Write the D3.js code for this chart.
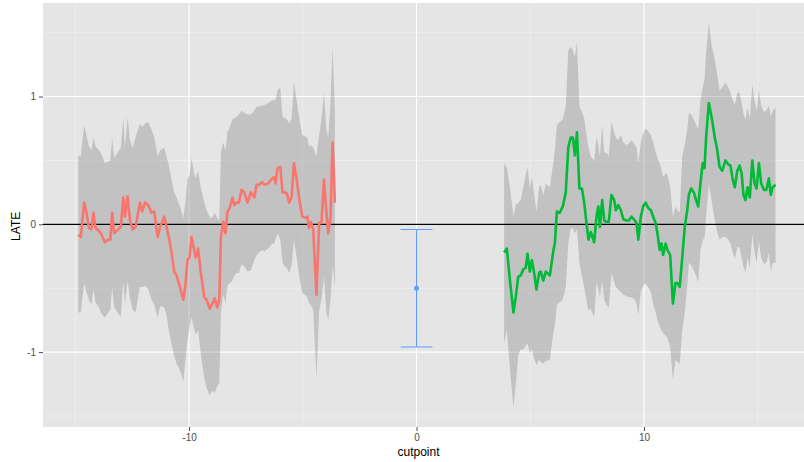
<!DOCTYPE html>
<html>
<head>
<meta charset="utf-8">
<script src="https://cdn.jsdelivr.net/npm/d3@7"></script>
<style>
  body { margin: 0; background: #fff; }
  text { font-family: "Liberation Sans", Arial, sans-serif; }
</style>
</head>
<body>
<div id="my_dataviz"></div>
<script>

// left window (red): cutpoint, estimate, upper and lower CI
var redCut = [-14.87,-14.76,-14.61,-14.51,-14.40,-14.29,-14.20,-14.11,-13.96,-13.85,-13.70,-13.55,-13.46,-13.38,-13.29,-13.11,-13.00,-12.89,-12.82,-12.70,-12.60,-12.48,-12.35,-12.16,-12.06,-11.94,-11.79,-11.65,-11.53,-11.38,-11.27,-11.09,-10.99,-10.89,-10.77,-10.65,-10.55,-10.40,-10.25,-10.15,-10.07,-9.98,-9.89,-9.79,-9.71,-9.60,-9.48,-9.33,-9.23,-9.09,-8.98,-8.87,-8.76,-8.67,-8.60,-8.50,-8.40,-8.31,-8.21,-8.09,-8.01,-7.91,-7.81,-7.69,-7.57,-7.43,-7.28,-7.13,-7.03,-6.93,-6.78,-6.69,-6.52,-6.34,-6.25,-6.20,-6.11,-5.99,-5.89,-5.79,-5.70,-5.60,-5.49,-5.39,-5.27,-5.13,-5.02,-4.91,-4.80,-4.73,-4.65,-4.54,-4.40,-4.28,-4.18,-4.07,-3.96,-3.88,-3.78,-3.69,-3.59];
var redLate = [-0.08,-0.10,0.17,0.09,-0.03,-0.04,0.09,-0.03,-0.05,-0.08,-0.14,-0.12,-0.12,0.09,-0.07,-0.04,-0.02,0.21,0.06,0.22,0.03,-0.04,-0.02,0.17,0.10,0.17,0.15,0.09,0.10,-0.10,-0.02,0.06,-0.02,-0.10,-0.22,-0.37,-0.40,-0.49,-0.59,-0.46,-0.28,-0.26,-0.10,-0.19,-0.26,-0.19,-0.38,-0.57,-0.59,-0.66,-0.62,-0.58,-0.65,-0.59,-0.10,0.02,-0.07,0.10,0.13,0.21,0.15,0.17,0.17,0.27,0.25,0.17,0.25,0.21,0.31,0.31,0.33,0.31,0.32,0.36,0.37,0.32,0.44,0.45,0.25,0.25,0.24,0.17,0.21,0.48,0.35,0.17,0.06,0.05,0.06,-0.03,0.02,-0.04,-0.55,0.01,0.01,0.35,0.09,-0.07,0.06,0.64,0.17];
var redHi = [0.54,0.53,0.78,0.70,0.61,0.58,0.68,0.61,0.58,0.55,0.48,0.49,0.50,0.68,0.52,0.57,0.60,0.83,0.60,0.84,0.66,0.60,0.68,0.79,0.76,0.79,0.80,0.74,0.68,0.53,0.58,0.60,0.53,0.46,0.35,0.25,0.21,0.14,0.05,0.19,0.35,0.39,0.52,0.41,0.36,0.42,0.28,0.17,0.11,0.06,0.05,0.09,0.05,0.03,0.56,0.64,0.58,0.72,0.76,0.82,0.83,0.84,0.86,0.89,0.87,0.86,0.86,0.89,0.92,0.92,0.93,0.93,0.95,0.97,0.97,0.97,1.05,1.07,0.84,0.83,0.82,0.79,0.83,1.11,0.97,0.80,0.70,0.69,0.68,0.61,0.62,0.60,0.53,0.70,0.82,1.03,0.74,0.68,0.97,1.39,0.89];
var redLo = [-0.69,-0.69,-0.46,-0.53,-0.59,-0.63,-0.51,-0.61,-0.65,-0.70,-0.73,-0.69,-0.67,-0.49,-0.65,-0.70,-0.72,-0.45,-0.62,-0.44,-0.58,-0.67,-0.69,-0.49,-0.49,-0.48,-0.51,-0.59,-0.63,-0.73,-0.64,-0.65,-0.71,-0.83,-0.94,-1.03,-1.09,-1.14,-1.23,-1.04,-0.91,-0.81,-0.73,-0.81,-0.86,-0.83,-1.02,-1.20,-1.28,-1.34,-1.30,-1.32,-1.27,-1.24,-0.69,-0.55,-0.62,-0.48,-0.46,-0.44,-0.40,-0.38,-0.38,-0.31,-0.33,-0.37,-0.36,-0.28,-0.24,-0.22,-0.20,-0.21,-0.19,-0.15,-0.15,-0.12,-0.07,-0.12,-0.30,-0.33,-0.34,-0.38,-0.32,-0.12,-0.26,-0.44,-0.54,-0.55,-0.57,-0.62,-0.63,-0.67,-1.20,-0.67,-0.59,-0.41,-0.69,-0.75,-0.59,-0.32,-0.49];

// right window (green)
var greenCut = [3.85,3.97,4.12,4.26,4.36,4.47,4.58,4.70,4.80,4.88,4.98,5.07,5.17,5.27,5.39,5.46,5.57,5.68,5.86,6.02,6.08,6.17,6.29,6.43,6.56,6.67,6.78,6.87,6.96,7.05,7.16,7.27,7.37,7.49,7.56,7.66,7.81,7.91,7.99,8.06,8.16,8.25,8.35,8.45,8.57,8.69,8.76,8.87,8.98,9.09,9.23,9.33,9.45,9.60,9.67,9.75,9.86,9.96,10.07,10.18,10.30,10.40,10.51,10.59,10.69,10.77,10.84,10.95,11.03,11.15,11.27,11.38,11.47,11.57,11.68,11.79,11.90,11.97,12.07,12.19,12.29,12.38,12.48,12.58,12.66,12.73,12.85,12.97,13.11,13.22,13.32,13.44,13.58,13.70,13.80,13.90,13.99,14.10,14.20,14.29,14.37,14.46,14.55,14.65,14.76,14.86,14.95,15.05,15.15,15.27,15.38,15.49,15.57,15.66,15.78];
var greenLate = [-0.22,-0.19,-0.46,-0.69,-0.57,-0.41,-0.40,-0.35,-0.34,-0.23,-0.37,-0.28,-0.38,-0.51,-0.38,-0.37,-0.44,-0.37,-0.40,-0.20,-0.15,0.10,0.09,0.14,0.25,0.60,0.68,0.68,0.54,0.72,0.28,0.28,0.17,-0.02,-0.12,-0.06,-0.14,0.06,0.14,-0.02,0.19,0.03,0.02,0.02,0.23,0.19,0.11,0.15,0.11,0.04,0.03,0.03,0.06,0.03,0.01,-0.12,0.06,0.14,0.17,0.13,0.11,0.06,0.01,-0.07,-0.20,-0.15,-0.24,-0.15,-0.20,-0.24,-0.62,-0.46,-0.46,-0.49,-0.26,-0.02,0.11,0.23,0.28,0.25,0.19,0.14,0.32,0.48,0.44,0.68,0.95,0.84,0.68,0.58,0.45,0.42,0.50,0.47,0.46,0.35,0.29,0.42,0.46,0.40,0.23,0.19,0.29,0.21,0.50,0.32,0.28,0.48,0.32,0.27,0.27,0.36,0.23,0.29,0.31];
var greenHi = [0.48,0.44,0.27,0.06,0.15,0.17,0.19,0.29,0.39,0.45,0.28,0.37,0.24,0.10,0.29,0.31,0.23,0.32,0.29,0.49,0.58,0.78,0.80,0.82,0.92,1.36,1.39,1.36,1.31,1.42,0.92,0.88,0.83,0.68,0.60,0.53,0.50,0.68,0.62,0.53,0.78,0.56,0.56,0.53,0.80,0.72,0.68,0.66,0.70,0.64,0.62,0.63,0.66,0.62,0.60,0.48,0.64,0.71,0.75,0.73,0.70,0.64,0.57,0.52,0.48,0.42,0.37,0.40,0.39,0.29,0.06,0.14,0.11,0.09,0.53,0.62,0.74,0.87,0.86,0.82,0.78,0.74,0.97,1.07,1.13,1.34,1.58,1.40,1.29,1.17,1.05,1.07,1.11,1.07,1.03,0.97,0.93,1.03,1.03,0.95,0.87,0.82,0.91,0.83,1.09,0.97,0.89,1.05,0.93,0.88,0.89,0.93,0.84,0.89,0.91];
var greenLo = [-0.93,-0.83,-1.16,-1.43,-1.26,-1.02,-0.98,-0.98,-0.95,-0.93,-1.01,-0.98,-1.05,-1.10,-1.06,-1.08,-1.09,-1.07,-1.06,-0.84,-0.79,-0.63,-0.61,-0.59,-0.49,-0.15,-0.03,-0.03,-0.07,-0.04,-0.30,-0.40,-0.49,-0.62,-0.67,-0.66,-0.73,-0.46,-0.51,-0.57,-0.44,-0.59,-0.63,-0.65,-0.38,-0.45,-0.49,-0.51,-0.53,-0.55,-0.56,-0.57,-0.57,-0.59,-0.62,-0.71,-0.53,-0.48,-0.46,-0.49,-0.53,-0.62,-0.69,-0.75,-0.80,-0.83,-0.85,-0.87,-0.89,-0.96,-1.22,-1.06,-1.08,-1.09,-0.83,-0.69,-0.48,-0.30,-0.32,-0.36,-0.40,-0.46,-0.20,-0.12,-0.11,0.06,0.32,0.19,0.03,-0.06,-0.12,-0.10,-0.10,-0.12,-0.15,-0.22,-0.27,-0.18,-0.18,-0.26,-0.33,-0.38,-0.26,-0.34,-0.08,-0.22,-0.30,-0.13,-0.26,-0.31,-0.30,-0.22,-0.37,-0.30,-0.30];

// pooled estimate at the cutpoint itself
var ciCut = [0];
var ciLate = [-0.50];
var ciLo = [-0.96];
var ciHi = [-0.04];

var xTicks = [-10, 0, 10];
var yTicks = [-1, 0, 1];

var W = 804, H = 462;
var margin = {top: 3, right: -7, bottom: 35, left: 43};
var width = W - margin.left - margin.right,
    height = H - margin.top - margin.bottom;

var svg = d3.select("#my_dataviz")
  .append("svg")
    .attr("width", W)
    .attr("height", H)
    .style("display", "block");

var x = d3.scaleLinear()
  .domain([-16.42, 17.34])
  .range([0, width]);
var y = d3.scaleLinear()
  .domain([-1.586, 1.732])
  .range([height, 0]);

var g = svg.append("g")
  .attr("transform", "translate(" + margin.left + "," + margin.top + ")");

// panel background + grid
g.append("rect")
  .attr("width", width)
  .attr("height", height)
  .attr("fill", "#E5E5E5");

var xMinor = [-15, -5, 5, 15], yMinor = [-1.5, -0.5, 0.5, 1.5];
g.selectAll(".xminor").data(xMinor).enter().append("line")
  .attr("x1", d => x(d)).attr("x2", d => x(d))
  .attr("y1", 0).attr("y2", height)
  .attr("stroke", "#F2F2F2").attr("stroke-width", 0.6);
g.selectAll(".yminor").data(yMinor).enter().append("line")
  .attr("x1", 0).attr("x2", width)
  .attr("y1", d => y(d)).attr("y2", d => y(d))
  .attr("stroke", "#F2F2F2").attr("stroke-width", 0.6);
g.selectAll(".xmajor").data(xTicks).enter().append("line")
  .attr("x1", d => x(d)).attr("x2", d => x(d))
  .attr("y1", 0).attr("y2", height)
  .attr("stroke", "#FFFFFF").attr("stroke-width", 1.1);
g.selectAll(".ymajor").data(yTicks).enter().append("line")
  .attr("x1", 0).attr("x2", width)
  .attr("y1", d => y(d)).attr("y2", d => y(d))
  .attr("stroke", "#FFFFFF").attr("stroke-width", 1.1);

// build rows from the arrays
function rows(cut, late, lo, hi) {
  return cut.map(function(c, i) {
    return {x: c, y: late[i], lo: lo[i], hi: hi[i]};
  });
}
var red = rows(redCut, redLate, redLo, redHi);
var green = rows(greenCut, greenLate, greenLo, greenHi);

var area = d3.area()
  .x(d => x(d.x))
  .y0(d => y(d.lo))
  .y1(d => y(d.hi));
var line = d3.line()
  .x(d => x(d.x))
  .y(d => y(d.y));

[red, green].forEach(function(s) {
  g.append("path")
    .datum(s)
    .attr("d", area)
    .attr("fill", "#7F7F7F")
    .attr("fill-opacity", 0.34);
});

// zero line
g.append("line")
  .attr("x1", 0).attr("x2", width)
  .attr("y1", y(0)).attr("y2", y(0))
  .attr("stroke", "#000").attr("stroke-width", 1.2);

g.append("path").datum(red).attr("d", line)
  .attr("fill", "none").attr("stroke", "#F8766D").attr("stroke-width", 2.6)
  .attr("stroke-linejoin", "round");
g.append("path").datum(green).attr("d", line)
  .attr("fill", "none").attr("stroke", "#00BA38").attr("stroke-width", 2.6)
  .attr("stroke-linejoin", "round");

// error bar at 0
var eb = g.append("g").attr("stroke", "#619CFF").attr("stroke-width", 1.1);
ciCut.forEach(function(c, i) {
  eb.append("line").attr("x1", x(c)).attr("x2", x(c))
    .attr("y1", y(ciLo[i])).attr("y2", y(ciHi[i]));
  eb.append("line").attr("x1", x(c - 0.7)).attr("x2", x(c + 0.7))
    .attr("y1", y(ciLo[i])).attr("y2", y(ciLo[i]));
  eb.append("line").attr("x1", x(c - 0.7)).attr("x2", x(c + 0.7))
    .attr("y1", y(ciHi[i])).attr("y2", y(ciHi[i]));
  g.append("circle").attr("cx", x(c)).attr("cy", y(ciLate[i]))
    .attr("r", 2.5).attr("fill", "#619CFF");
});

// axes
var xAxis = g.append("g")
  .attr("transform", "translate(0," + height + ")")
  .call(d3.axisBottom(x).tickValues(xTicks).tickSize(4).tickPadding(3));
var yAxis = g.append("g")
  .call(d3.axisLeft(y).tickValues(yTicks).tickSize(4).tickPadding(3)
        .tickFormat(d3.format("d")));
[xAxis, yAxis].forEach(function(a) {
  a.select(".domain").remove();
  a.selectAll(".tick line").attr("stroke", "#4D4D4D");
  a.selectAll(".tick text")
    .attr("fill", "#4D4D4D")
    .style("font-size", "10px")
    .style("font-family", "'Liberation Sans', Arial, sans-serif");
});
yAxis.selectAll(".tick text").text(d => d < 0 ? "-" + Math.abs(d) : d);
xAxis.selectAll(".tick text").text(d => d < 0 ? "-" + Math.abs(d) : d);

// axis titles
svg.append("text")
  .attr("x", margin.left + x(0) + 2)
  .attr("y", 456)
  .attr("text-anchor", "middle")
  .style("font-size", "12px")
  .text("cutpoint");
svg.append("text")
  .attr("transform", "translate(20," + (margin.top + y(0) + 2) + ") rotate(-90)")
  .attr("text-anchor", "middle")
  .style("font-size", "12px")
  .text("LATE");

</script>
</body>
</html>
